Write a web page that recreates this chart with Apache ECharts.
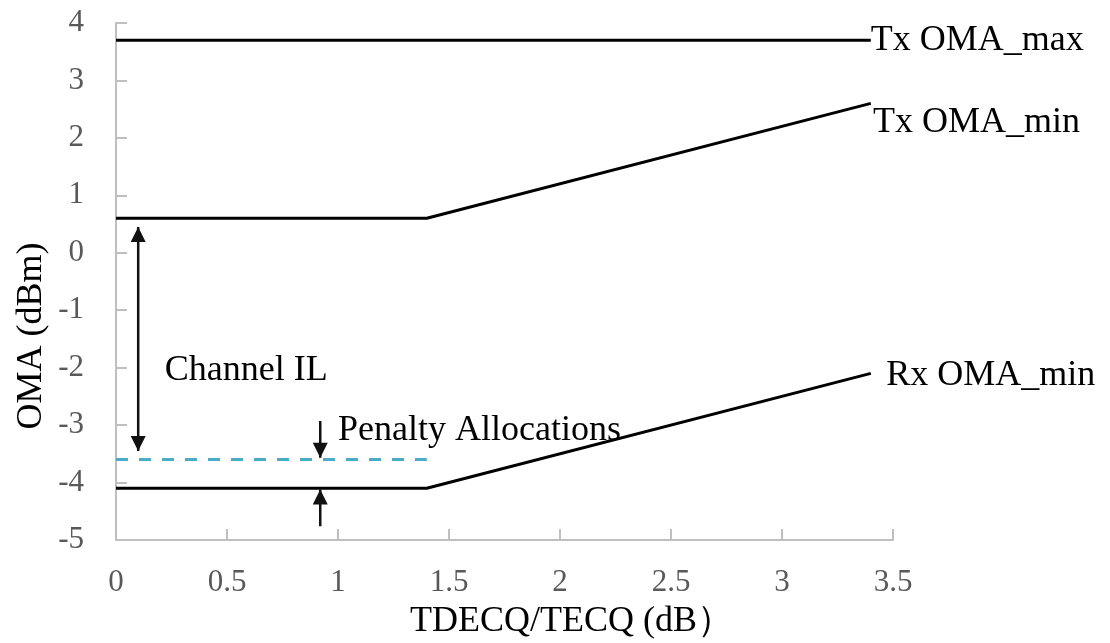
<!DOCTYPE html>
<html>
<head>
<meta charset="utf-8">
<script src="https://cdn.jsdelivr.net/npm/echarts@6/dist/echarts.min.js"></script>
<style>
  html, body { margin: 0; padding: 0; background: #fff; }
  #chart { width: 1110px; height: 643px; }
</style>
</head>
<body>
<div id="chart"></div>
<script>
// Power budget lines: [TDECQ/TECQ (dB), OMA (dBm)]
const txOmaMax = [[0, 3.7], [3.4, 3.7]];
const txOmaMin = [[0, 0.6], [1.4, 0.6], [3.4, 2.6]];
const rxOmaMin = [[0, -4.1], [1.4, -4.1], [3.4, -2.1]];
const penaltyLevel = [[0, -3.6], [1.4, -3.6]];

// Arrow shafts: [tail, tip] in data units
const channelArrow = [[0.1, 0.45], [0.1, -3.45]];
const penaltyDownArrow = [[0.92, -2.93], [0.92, -3.57]];
const penaltyUpArrow = [[0.92, -4.76], [0.92, -4.12]];

// Axis ticks
const xTicks = { min: 0, max: 3.5, step: 0.5 };
const yTicks = { min: -5, max: 4, step: 1 };

// Text annotations anchored in data units
const notes = [
  { text: 'Tx OMA_max', at: [3.4, 3.7] },
  { text: 'Tx OMA_min', at: [3.41, 2.27] },
  { text: 'Rx OMA_min', at: [3.47, -2.13] },
  { text: 'Channel IL', at: [0.22, -2.05] },
  { text: 'Penalty Allocations', at: [1.0, -3.1] }
];

const SERIF = '"Liberation Serif", "Times New Roman", serif';
const AXIS_GRAY = '#bfbfbf';
const LABEL_GRAY = '#595959';
const INK = '#111';

function solid(name, data) {
  return {
    name, type: 'line', data, symbol: 'none', z: 3,
    lineStyle: { color: '#000', width: 3 }
  };
}

function shaft(data) {
  return {
    type: 'line', data, symbol: 'none', z: 4,
    lineStyle: { color: INK, width: 2.5 }
  };
}

// Arrowheads: triangle with its tip placed on the data point
function heads(points) {
  return {
    type: 'scatter', z: 5,
    symbol: 'triangle', symbolSize: [15, 15],
    itemStyle: { color: INK, opacity: 1 },
    data: points.map(p => ({
      value: p.at,
      symbolRotate: p.down ? 180 : 0,
      symbolOffset: [0, p.down ? '-50%' : '50%']
    }))
  };
}

const chart = echarts.init(document.getElementById('chart'), null, { renderer: 'canvas' });

const axisCommon = {
  type: 'value',
  axisLine: { show: true, onZero: false, lineStyle: { color: AXIS_GRAY, width: 2 } },
  axisTick: { show: true, inside: true, length: 11, lineStyle: { color: AXIS_GRAY, width: 2 } },
  splitLine: { show: false },
  axisLabel: { color: LABEL_GRAY, fontFamily: SERIF, fontSize: 31 }
};

chart.setOption({
  animation: false,
  backgroundColor: '#fff',
  grid: { left: 116, right: 217, top: 23, bottom: 103, containLabel: false },
  xAxis: Object.assign({}, axisCommon, {
    min: xTicks.min, max: xTicks.max, interval: xTicks.step,
    axisLabel: Object.assign({}, axisCommon.axisLabel, { margin: 27 })
  }),
  yAxis: Object.assign({}, axisCommon, {
    min: yTicks.min, max: yTicks.max, interval: yTicks.step,
    axisLabel: Object.assign({}, axisCommon.axisLabel, { margin: 32 })
  }),
  graphic: [
    {
      type: 'text', x: 32, y: 336, rotation: Math.PI / 2,
      style: { text: 'OMA (dBm)', font: '36px ' + SERIF, fill: '#000', align: 'center', verticalAlign: 'middle' }
    },
    {
      type: 'text', x: 410, y: 622,
      style: { text: 'TDECQ/TECQ (dB）', font: '36px ' + SERIF, fill: '#000', align: 'left', verticalAlign: 'middle' }
    }
  ],
  series: [
    solid('Tx OMA_max', txOmaMax),
    solid('Tx OMA_min', txOmaMin),
    solid('Rx OMA_min', rxOmaMin),
    {
      name: 'Penalty', type: 'line', data: penaltyLevel, symbol: 'none', z: 2,
      lineStyle: { color: '#4bacc6', width: 3, type: [12, 11] }
    },
    shaft(channelArrow),
    shaft(penaltyDownArrow),
    shaft(penaltyUpArrow),
    heads([
      { at: channelArrow[0] },
      { at: channelArrow[1], down: true },
      { at: penaltyDownArrow[1], down: true },
      { at: penaltyUpArrow[1] }
    ]),
    {
      type: 'scatter', z: 6, symbolSize: 0, silent: true,
      itemStyle: { opacity: 1, color: '#000' },
      data: notes.map(n => ({ value: n.at, name: n.text })),
      label: {
        show: true, position: 'right', distance: 0,
        formatter: p => p.name,
        color: '#000', fontFamily: SERIF, fontSize: 36,
        align: 'left', verticalAlign: 'middle'
      }
    }
  ]
});
</script>
</body>
</html>
